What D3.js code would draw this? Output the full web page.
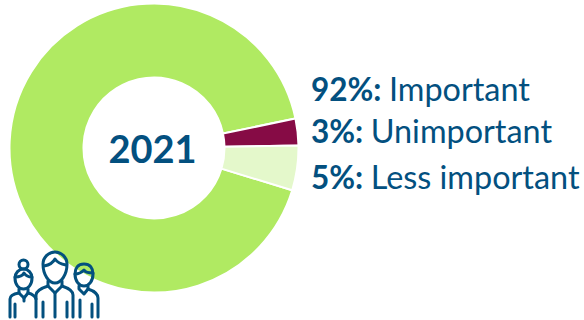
<!DOCTYPE html>
<html>
<head>
<meta charset="utf-8">
<script src="https://cdn.jsdelivr.net/npm/d3@7"></script>
<style>
html,body{margin:0;padding:0;background:#fff;}
svg{display:block;}
</style>
</head>
<body>
<svg id="chart" width="584" height="320"></svg>
<script>
const categories = ["Important", "Unimportant", "Less important"];
const shares = [92, 3, 5];
const sliceColors = ["#b0ea62", "#860b45", "#e4f8cb"];
const centerLabel = "2021";
const ink = "#03507f";

const svg = d3.select("#chart");
const cx = 154, cy = 148, outerR = 144.5, innerR = 70.5;

// The first slice begins at the lower right so the two small slices sit at three o'clock.
const startAngle = 107 * Math.PI / 180;
const pie = d3.pie().sort(null)
  .startAngle(startAngle)
  .endAngle(startAngle + Math.PI * 2);
const arc = d3.arc().innerRadius(innerR).outerRadius(outerR);

const ring = svg.append("g").attr("transform", `translate(${cx},${cy})`);
ring.selectAll("path")
  .data(pie(shares))
  .join("path")
  .attr("d", arc)
  .attr("fill", (d, i) => sliceColors[i])
  .attr("stroke", "#fff")
  .attr("stroke-width", 2);

ring.append("text")
  .attr("x", -1.5).attr("y", 15)
  .attr("text-anchor", "middle")
  .attr("font-family", "Lato, 'Open Sans', sans-serif")
  .attr("font-weight", 700)
  .attr("font-size", 38)
  .attr("fill", ink)
  .text(centerLabel);

// Legend rows beside the ring
const rowY = [101, 143, 189];
const legend = svg.append("g")
  .attr("font-family", "Lato, 'Open Sans', sans-serif")
  .attr("fill", ink);
categories.forEach((name, i) => {
  const row = legend.append("text").attr("x", 311).attr("y", rowY[i]);
  row.append("tspan").attr("font-weight", 700).attr("font-size", 31.5).text(`${shares[i]}%:`);
  row.append("tspan").attr("dx", 7.5).attr("font-size", 32.4).text(name);
});

// Group-of-people pictogram, lower left
const people = svg.append("g")
  .attr("fill", "none")
  .attr("stroke", ink)
  .attr("stroke-width", 3)
  .attr("stroke-linecap", "round")
  .attr("stroke-linejoin", "round");

// Woman
people.append("circle").attr("cx", 23.5).attr("cy", 264.5).attr("r", 4.5);
people.append("path").attr("d", "M15 278a8.500 9 0 0 1 17 0c0 7-4 11-8.500 11S15 285 15 278Z");
people.append("path").attr("d", "M15 277c5 0 8-2 9-4 2 3 5 4 8 4");
people.append("path").attr("d", "M19 289v4l5 5 4-5v-4");
people.append("path").attr("d", "M10 317v-18c0-3 3-5 9-6M28 293c4 1 7 3 8 6");
people.append("path").attr("d", "M15 304v13M24 298v3");

// Man, centre
people.append("path").attr("d", "M43 264c0-7 6-12 12-12s12 5 12 12c0 11-6 19-12 19s-12-8-12-19Z");
people.append("path").attr("d", "M44 266c5-1 9-3 11-7 2 3 5 5 11 6");
people.append("path").attr("d", "M48 281v5l7 7 7-7v-5");
people.append("path").attr("d", "M36 317v-22c0-4 6-7 12-9M62 286c6 2 11 5 11 9v22");
people.append("path").attr("d", "M43 302v15M67 302v15M55 293v24");

// Man, right
people.append("path").attr("d", "M75 274c0-6 3-10 9-10s9 4 9 10c0 7-4 12-9 12S75 281 75 274Z");
people.append("path").attr("d", "M75 274c4 0 7-2 9-4 1 2 4 3 9 3");
people.append("path").attr("d", "M79 286v3l5 5 4-5v-3");
people.append("path").attr("d", "M88 289c6 2 10 5 10 9v19M80 300v17M92 304v13");
</script>
</body>
</html>
